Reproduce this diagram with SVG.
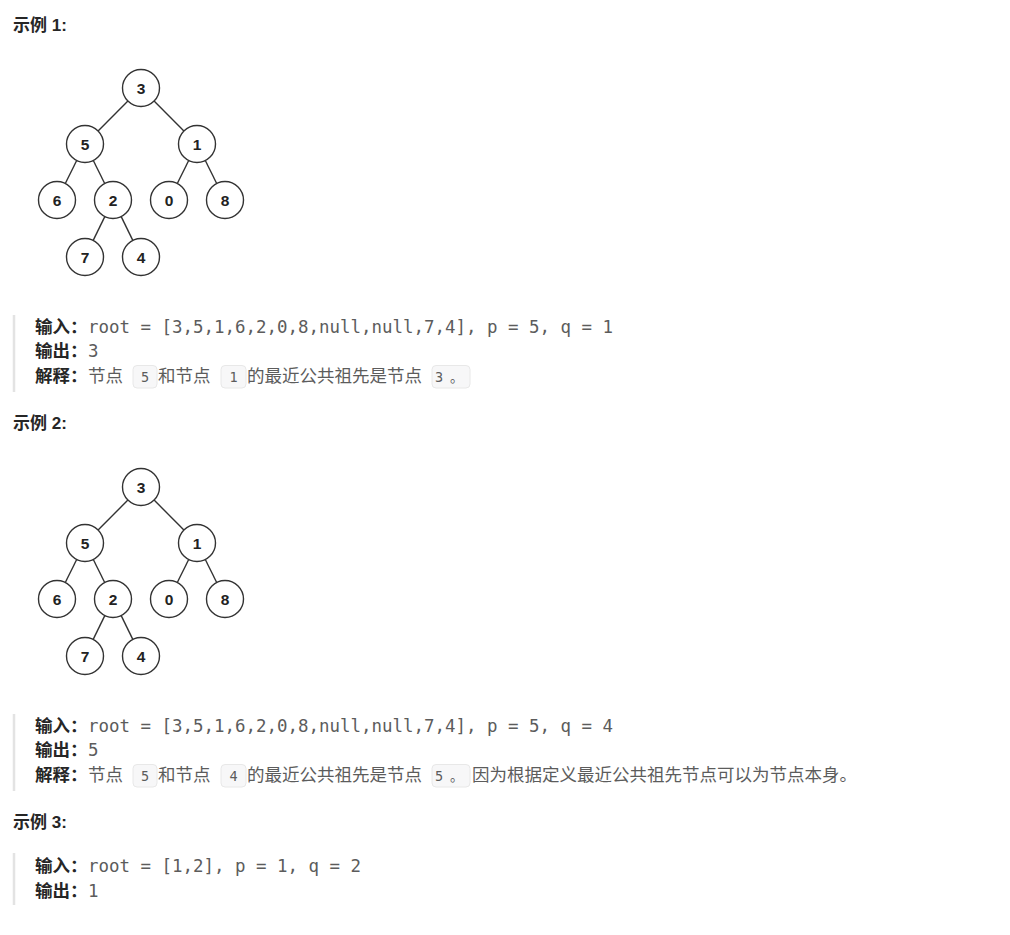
<svg xmlns="http://www.w3.org/2000/svg" width="1010" height="935" viewBox="0 0 1010 935">
<style>
.h{font-family:"Liberation Sans","Noto Sans CJK SC",sans-serif;font-weight:bold;font-size:17px;fill:#262626}
.lb{font-family:"Noto Sans CJK SC",sans-serif;font-weight:bold;font-size:17.5px;fill:#262626}
.cd{font-family:"DejaVu Sans Mono",monospace;font-size:17.45px;fill:#5c5c5c}
.tx{font-family:"Noto Sans CJK SC",sans-serif;font-size:17.5px;fill:#5c5c5c}
.ic{font-family:"DejaVu Sans Mono","Noto Sans CJK SC",monospace;font-size:13.5px;fill:#5c5c5c}
.box{fill:#f7f7f8;stroke:#e8e8e8;stroke-width:1}
.bar{stroke:#e3e3e3;stroke-width:2.5}
.n circle{fill:#fff;stroke:#333;stroke-width:1.4}
.n text{font-family:"Liberation Sans",Arial,sans-serif;font-size:15.5px;font-weight:bold;fill:#222;text-anchor:middle}
.e line{stroke:#333;stroke-width:1.4}
</style>
<rect width="1010" height="935" fill="#fff"/>
<defs>
<g id="tree">
<g class="e">
<line x1="127.9" y1="101.1" x2="98.1" y2="130.9"/>
<line x1="154.1" y1="101.1" x2="183.9" y2="130.9"/>
<line x1="76.7" y1="160.5" x2="65.3" y2="183.5"/>
<line x1="93.3" y1="160.5" x2="104.7" y2="183.5"/>
<line x1="188.7" y1="160.5" x2="177.3" y2="183.5"/>
<line x1="205.3" y1="160.5" x2="216.7" y2="183.5"/>
<line x1="104.8" y1="216.6" x2="93.2" y2="240.4"/>
<line x1="121.2" y1="216.6" x2="132.8" y2="240.4"/>
</g>
<g class="n"><circle cx="141" cy="88" r="18.5"/><text x="141" y="93.5">3</text></g>
<g class="n"><circle cx="85" cy="144" r="18.5"/><text x="85" y="149.5">5</text></g>
<g class="n"><circle cx="197" cy="144" r="18.5"/><text x="197" y="149.5">1</text></g>
<g class="n"><circle cx="57" cy="200" r="18.5"/><text x="57" y="205.5">6</text></g>
<g class="n"><circle cx="113" cy="200" r="18.5"/><text x="113" y="205.5">2</text></g>
<g class="n"><circle cx="169" cy="200" r="18.5"/><text x="169" y="205.5">0</text></g>
<g class="n"><circle cx="225" cy="200" r="18.5"/><text x="225" y="205.5">8</text></g>
<g class="n"><circle cx="85" cy="257" r="18.5"/><text x="85" y="262.5">7</text></g>
<g class="n"><circle cx="141" cy="257" r="18.5"/><text x="141" y="262.5">4</text></g>
</g>
</defs>

<!-- Example 1 -->
<g id="example1">
<text class="h" x="13" y="31">示例 1:</text>
<use id="tree1" href="#tree"/>
<line class="bar" x1="14" y1="315" x2="14" y2="392"/>
<text class="lb" x="35" y="333">输入：</text>
<text class="cd" x="88" y="333">root = [3,5,1,6,2,0,8,null,null,7,4], p = 5, q = 1</text>
<text class="lb" x="35" y="357">输出：</text>
<text class="cd" x="88" y="357">3</text>
<text class="lb" x="35" y="382">解释：</text>
<text class="tx" x="88" y="382">节点</text>
<rect class="box" x="133" y="365.5" width="24" height="22.5" rx="4"/>
<text class="ic" x="145" y="381.5" text-anchor="middle">5</text>
<text class="tx" x="158" y="382">和节点</text>
<rect class="box" x="221" y="365.5" width="25" height="22.5" rx="4"/>
<text class="ic" x="233.5" y="381.5" text-anchor="middle">1</text>
<text class="tx" x="247" y="382">的最近公共祖先是节点</text>
<rect class="box" x="432" y="365.5" width="38" height="22.5" rx="4"/>
<text class="ic" x="435" y="381.5">3</text>
<text class="ic" x="450" y="381.5">。</text>
</g>

<!-- Example 2 -->
<g id="example2">
<text class="h" x="13" y="429">示例 2:</text>
<use id="tree2" href="#tree" transform="translate(0,399)"/>
<line class="bar" x1="14" y1="714" x2="14" y2="791"/>
<text class="lb" x="35" y="732">输入：</text>
<text class="cd" x="88" y="732">root = [3,5,1,6,2,0,8,null,null,7,4], p = 5, q = 4</text>
<text class="lb" x="35" y="756">输出：</text>
<text class="cd" x="88" y="756">5</text>
<text class="lb" x="35" y="781">解释：</text>
<text class="tx" x="88" y="781">节点</text>
<rect class="box" x="133" y="764.5" width="24" height="22.5" rx="4"/>
<text class="ic" x="145" y="780.5" text-anchor="middle">5</text>
<text class="tx" x="158" y="781">和节点</text>
<rect class="box" x="221" y="764.5" width="25" height="22.5" rx="4"/>
<text class="ic" x="233.5" y="780.5" text-anchor="middle">4</text>
<text class="tx" x="247" y="781">的最近公共祖先是节点</text>
<rect class="box" x="432" y="764.5" width="38" height="22.5" rx="4"/>
<text class="ic" x="435" y="780.5">5</text>
<text class="ic" x="450" y="780.5">。</text>
<text class="tx" x="472" y="781">因为根据定义最近公共祖先节点可以为节点本身。</text>
</g>

<!-- Example 3 -->
<g id="example3">
<text class="h" x="13" y="828">示例 3:</text>
<line class="bar" x1="14" y1="853" x2="14" y2="905"/>
<text class="lb" x="35" y="872">输入：</text>
<text class="cd" x="88" y="872">root = [1,2], p = 1, q = 2</text>
<text class="lb" x="35" y="897">输出：</text>
<text class="cd" x="88" y="897">1</text>
</g>
</svg>
